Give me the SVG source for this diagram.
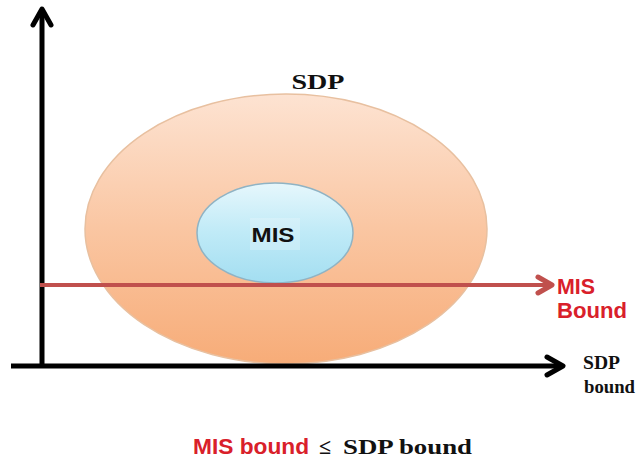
<svg xmlns="http://www.w3.org/2000/svg" width="637" height="461" viewBox="0 0 637 461">
<defs>
<linearGradient id="gSdp" x1="0" y1="0" x2="0" y2="1">
<stop offset="0" stop-color="#fde3d2"/>
<stop offset="0.5" stop-color="#fac6a2"/>
<stop offset="1" stop-color="#f7ac78"/>
</linearGradient>
<linearGradient id="gMis" x1="0" y1="0" x2="0" y2="1">
<stop offset="0" stop-color="#e6f7fc"/>
<stop offset="0.5" stop-color="#bfeaf7"/>
<stop offset="1" stop-color="#a3def1"/>
</linearGradient>
<style>
.axis{stroke:#000;stroke-width:5;fill:none}
.head{fill:none;stroke-width:5;stroke-linecap:round;stroke-linejoin:round}
.serif{font-family:"Liberation Serif","Times New Roman",serif;font-weight:bold;fill:#111}
.sans{font-family:"Liberation Sans",Arial,sans-serif;font-weight:bold}
.red{fill:#d9202a}
</style>
</defs>
<g id="sdp">
<ellipse cx="286" cy="229" rx="201" ry="135" fill="url(#gSdp)" stroke="#e8c0a0" stroke-width="1.5"/>
<text class="serif" x="318" y="89" font-size="22" text-anchor="middle" textLength="53" lengthAdjust="spacingAndGlyphs">SDP</text>
</g>
<g id="mis">
<ellipse cx="275" cy="233" rx="78" ry="50" fill="url(#gMis)" stroke="#8fb3c4" stroke-width="1.5"/>
<rect x="250" y="218" width="50" height="32" fill="#e8f6fb" opacity="0.35"/>
<text class="sans" x="273" y="242" font-size="21" fill="#111" text-anchor="middle" textLength="43" lengthAdjust="spacingAndGlyphs">MIS</text>
</g>
<g id="connectors">
<line class="axis" x1="42" y1="368" x2="42" y2="10"/>
<polyline class="head" stroke="#000" points="33,25 42,9 51,25"/>
<line class="axis" x1="11" y1="366" x2="561" y2="366"/>
<polyline class="head" stroke="#000" points="547,357 563,366 547,375"/>
<line x1="40" y1="285" x2="550" y2="285" stroke="#c0504d" stroke-width="4"/>
<polyline class="head" stroke="#c0504d" stroke-width="4" points="538,277 552,285 538,293"/>
</g>
<g id="labels">
<text class="sans red" x="557" y="294" font-size="22" textLength="38" lengthAdjust="spacingAndGlyphs">MIS</text>
<text class="sans red" x="557" y="318" font-size="22" textLength="70" lengthAdjust="spacingAndGlyphs">Bound</text>
<text class="serif" x="583" y="369" font-size="18" textLength="37" lengthAdjust="spacingAndGlyphs">SDP</text>
<text class="serif" x="584" y="393" font-size="18" textLength="51" lengthAdjust="spacingAndGlyphs">bound</text>
<text class="sans red" x="193" y="454" font-size="22" textLength="116" lengthAdjust="spacingAndGlyphs">MIS bound</text>
<text class="serif" x="319" y="454" font-size="22">≤</text>
<text class="serif" x="343" y="454" font-size="22" textLength="129" lengthAdjust="spacingAndGlyphs">SDP bound</text>
</g>
</svg>
